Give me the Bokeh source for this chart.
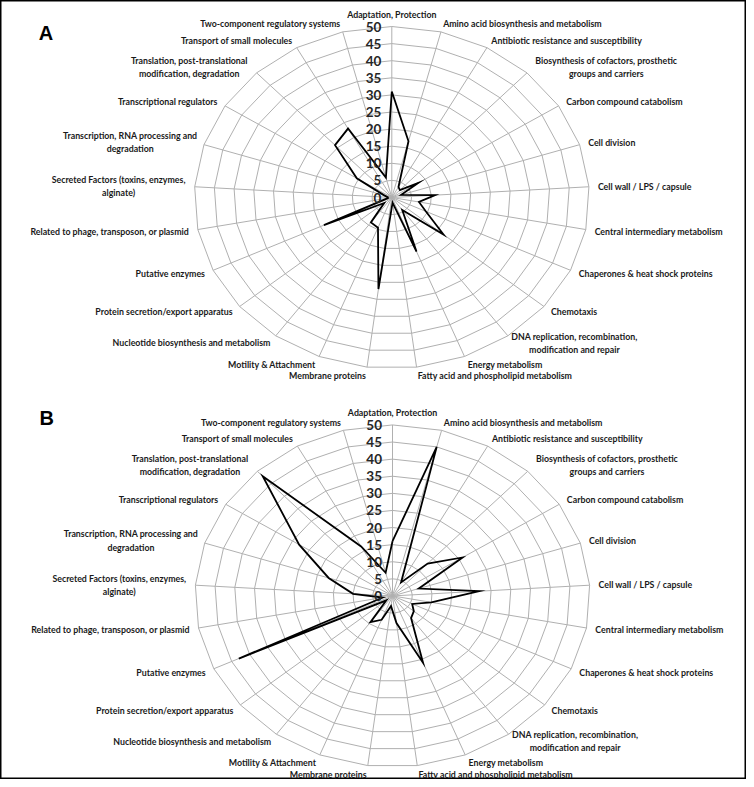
import numpy as np
from bokeh.plotting import figure
from bokeh.models import Range1d, ColumnDataSource, Label
from bokeh.core.properties import value
from bokeh.embed import file_html
from bokeh.resources import INLINE

# ---------------- data ----------------
categories = [
    "Adaptation, Protection",
    "Amino acid biosynthesis and metabolism",
    "Antibiotic resistance and susceptibility",
    "Biosynthesis of cofactors, prosthetic\ngroups and carriers",
    "Carbon compound catabolism",
    "Cell division",
    "Cell wall / LPS / capsule",
    "Central intermediary metabolism",
    "Chaperones & heat shock proteins",
    "Chemotaxis",
    "DNA replication, recombination,\nmodification and repair",
    "Energy metabolism",
    "Fatty acid and phospholipid metabolism",
    "Membrane proteins",
    "Motility & Attachment",
    "Nucleotide biosynthesis and metabolism",
    "Protein secretion/export apparatus",
    "Putative enzymes",
    "Related to phage, transposon, or plasmid",
    "Secreted Factors (toxins, enzymes,\nalginate)",
    "Transcription, RNA processing and\ndegradation",
    "Transcriptional regulators",
    "Translation, post-translational\nmodification, degradation",
    "Transport of small molecules",
    "Two-component regulatory systems",
]

values_a = [31, 17, 3.5, 3, 8, 2.5, 11, 7, 9.5, 17, 4.5, 17, 1.5, 27,
            9.5, 9, 2.5, 19, 1, 1, 2, 10.5, 21, 23, 6]
values_b = [16, 45, 4.5, 13, 21, 7, 22, 10, 5.5, 7, 8, 21, 8, 3,
            7.5, 9.5, 2, 43, 2.5, 10, 17, 28, 48, 16.5, 7]

ring_levels = [0, 5, 10, 15, 20, 25, 30, 35, 40, 45, 50]
panel_letters = ["A", "B"]
r_max = 50

# ---------------- geometry / style ----------------
W, H = 746, 779
SX, SY = 3.95, 3.42            # px per unit (chart is stretched horizontally)
cx_px, cy_px = 391.3, 197.0    # centre of panel A in figure px
panel_dx = [0.0, 0.18]         # panel centre offsets (units)
panel_dy = [0.0, -116.5]
letter_top = [51.3, 55.3]      # top of the panel letter (units above centre)

x0 = -cx_px / SX
x1 = (W - cx_px) / SX
y1 = cy_px / SY
y0 = -(H - cy_px) / SY

p = figure(width=W, height=H, x_range=Range1d(x0, x1), y_range=Range1d(y0, y1),
           output_backend="svg", toolbar_location=None, min_border=0,
           x_axis_location=None, y_axis_location=None)
p.grid.visible = False
p.outline_line_color = "black"
p.outline_line_width = 2
p.background_fill_color = "white"
p.border_fill_color = "white"

N = len(categories)
theta = np.arange(N) * 2 * np.pi / N
s, c = np.sin(theta), np.cos(theta)

GRID = "#b0b0b0"
LABEL_FONT = value("Lato")
CHAR_W = 3.95   # approx. px per character of the category labels

for k, vals in enumerate([values_a, values_b]):
    ox, oy = panel_dx[k], panel_dy[k]
    # rings
    xs, ys = [], []
    for lv in ring_levels[1:]:
        xs.append(list(lv * s + ox) + [lv * s[0] + ox])
        ys.append(list(lv * c + oy) + [lv * c[0] + oy])
    p.multi_line(xs, ys, line_color=GRID, line_width=1)
    # spokes
    p.segment(x0=np.full(N, ox), y0=np.full(N, oy), x1=r_max * s + ox, y1=r_max * c + oy,
              line_color=GRID, line_width=1)
    # data polygon
    v = np.array(vals, dtype=float)
    px = list(v * s + ox) + [v[0] * s[0] + ox]
    py = list(v * c + oy) + [v[0] * c[0] + oy]
    p.line(px, py, line_color="black", line_width=1.8, line_join="miter")

    # radial tick labels
    p.text(x=np.full(len(ring_levels), ox), y=np.array(ring_levels) + oy,
           text=[str(l) for l in ring_levels], x_offset=-10.5, text_align="right",
           text_baseline="middle", text_font=LABEL_FONT, text_font_style="bold",
           text_font_size="13.5px", text_color="#262626")

    # category labels: single-line labels anchored by side,
    # multi-line labels centred line by line
    rows = {"left": [], "right": [], "center": []}
    for i in range(N):
        lab = categories[i]
        multi = "\n" in lab
        if abs(s[i]) < 0.05:
            rows["center"].append((i, 0.0, -7.0))
        elif multi:
            half = 0.5 * CHAR_W * max(len(t) for t in lab.split("\n"))
            sign = 1 if s[i] > 0 else -1
            rows["center"].append((i, 9.0 * s[i] + sign * half, -8.5 * c[i]))
        elif s[i] > 0:
            rows["left"].append((i, 9.0 * s[i], -8.5 * c[i]))
        else:
            rows["right"].append((i, 9.0 * s[i], -8.5 * c[i]))
    for al, items in rows.items():
        idx = np.array([t[0] for t in items])
        xoff = [t[1] for t in items]
        yoff = [t[2] for t in items]
        base = ["bottom" if abs(s[i]) < 0.05 else "middle" for i in idx]
        src = ColumnDataSource(dict(
            x=r_max * s[idx] + ox, y=r_max * c[idx] + oy,
            text=[categories[i] for i in idx], xo=xoff, yo=yoff, base=base))
        p.text(x="x", y="y", text="text", x_offset="xo", y_offset="yo", source=src,
               text_align=al, text_baseline="base", text_font=LABEL_FONT,
               text_font_style="bold", text_font_size="8.8px", text_color="#1a1a1a",
               text_line_height=1.2)

    # panel letter
    p.add_layout(Label(x=-89.4 + ox, y=letter_top[k] + oy, text=panel_letters[k],
                       text_align="left", text_baseline="top",
                       text_font="Liberation Sans", text_font_style="bold",
                       text_font_size="20px", text_color="black"))

open("out.html", "w").write(file_html(p, INLINE))
